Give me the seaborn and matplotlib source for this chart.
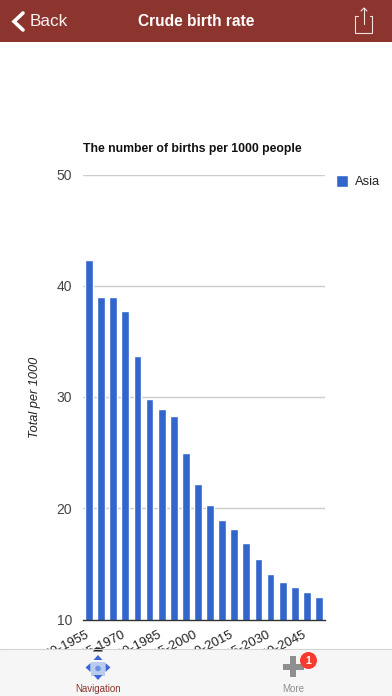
import matplotlib
matplotlib.use("Agg")
import matplotlib.pyplot as plt
import seaborn as sns
from matplotlib.patches import Rectangle, Circle, Polygon
from matplotlib.transforms import ScaledTranslation

periods = ["1950-1955", "1955-1960", "1960-1965", "1965-1970", "1970-1975",
           "1975-1980", "1980-1985", "1985-1990", "1990-1995", "1995-2000",
           "2000-2005", "2005-2010", "2010-2015", "2015-2020", "2020-2025",
           "2025-2030", "2030-2035", "2035-2040", "2040-2045", "2045-2050"]
births = [42.3, 39.0, 39.0, 37.7, 33.7, 29.8, 28.9, 28.3, 25.0, 22.2,
          20.3, 18.95, 18.1, 16.85, 15.4, 14.1, 13.35, 12.9, 12.5, 12.0]
y_ticks = [10, 20, 30, 40, 50]
shown_periods = periods[::3]

W, H = 392, 696
sns.set_theme(style="white")
plt.rcParams["font.family"] = ["Liberation Sans", "DejaVu Sans"]

fig = plt.figure(figsize=(W / 100, H / 100), dpi=100)
ax = fig.add_axes([83 / W, 1 - 619.5 / H, 242 / W, 445 / H])

sns.barplot(x=periods, y=births, color="#3366cc", saturation=1, width=0.64,
            label="Asia", ax=ax)
ax.set_xlim(-0.5, 19.5)
ax.set_ylim(10, 50)
ax.set_yticks(y_ticks)
ax.set_xticks(range(0, 20, 3))
ax.set_xticklabels(shown_periods, rotation=27, ha="right", rotation_mode="anchor",
                   fontsize=9.4, color="#222222")
ax.tick_params(axis="y", length=0, pad=8, labelsize=10, labelcolor="#444444")
ax.tick_params(axis="x", length=0, pad=6)
# nudge the slanted labels so they end under their bars (after tick_params, which resets it)
for lab in ax.get_xticklabels():
    lab.set_transform(lab.get_transform() + ScaledTranslation(-3 / 72, -0.5 / 72, fig.dpi_scale_trans))
ax.grid(axis="y", color="#cccccc", linewidth=1)
ax.set_axisbelow(True)
sns.despine(ax=ax, left=True, top=True, right=True)
ax.spines["bottom"].set_color("#333333")
ax.spines["bottom"].set_linewidth(1)
ax.set_ylabel("Total per 1000", fontsize=9.2, style="italic", color="#222222", labelpad=11)
ax.set_title("The number of births per 1000 people", fontsize=8.85, fontweight="bold",
             loc="left", color="#111111", pad=16.5)
ax.legend(loc="upper left", bbox_to_anchor=(1.045, 1.0), frameon=False, fontsize=9.3,
          handlelength=0.93, handleheight=1.15, handletextpad=0.55, borderaxespad=0, borderpad=0,
          labelcolor="#222222")

# app chrome on top, in pixel coordinates
ui = fig.add_axes([0, 0, 1, 1], zorder=5)
ui.set_xlim(0, W)
ui.set_ylim(H, 0)
ui.axis("off")
ui.patch.set_alpha(0)

red = "#8c352e"
ui.add_patch(Rectangle((0, 0), W, 41.5, color=red, lw=0))
ui.plot([23, 14, 23], [13, 21.5, 30], color="white", lw=2.6, solid_joinstyle="miter")
ui.text(30, 21.5, "Back", color="white", fontsize=12.4, va="center", alpha=0.93)
ui.text(196, 21.5, "Crude birth rate", color="white", fontsize=11.2, fontweight="bold",
        va="center", ha="center")
ui.plot([358, 355.5, 355.5, 372.5, 372.5, 370], [16, 16, 32.5, 32.5, 16, 16],
        color="white", lw=0.8, alpha=0.85)
ui.plot([364, 364], [8, 24], color="white", lw=0.8, alpha=0.85)
ui.plot([361, 364, 367], [11, 8, 11], color="white", lw=0.8, alpha=0.85)

ui.add_patch(Rectangle((0, 649), W, 47, color="#f6f6f7", lw=0))
ui.plot([0, W], [649, 649], color="#d4d4d4", lw=0.8)

blue = "#3b68d8"
ui.add_patch(Rectangle((91, 661.5), 14, 14, color="#b9cbef", lw=0))
ui.add_patch(Circle((98, 668.5), 2.8, color="#6f92e0", lw=0))
ui.add_patch(Polygon([[98, 655], [93.5, 660], [102.5, 660]], color=blue, lw=0))
ui.add_patch(Polygon([[98, 680], [93.5, 675], [102.5, 675]], color=blue, lw=0))
ui.add_patch(Polygon([[85.5, 667.5], [90.5, 663], [90.5, 672]], color=blue, lw=0))
ui.add_patch(Polygon([[110.5, 667.5], [105.5, 663], [105.5, 672]], color=blue, lw=0))
ui.add_patch(Polygon([[93, 651.5], [96, 647.5], [100, 647.5], [103, 651.5]], color="#222222", lw=0))
ui.text(98, 689, "Navigation", color=red, fontsize=7, ha="center", va="center")

ui.add_patch(Rectangle((283, 663.5), 21, 6.5, color="#8f8f8f", lw=0))
ui.add_patch(Rectangle((290, 656), 6.5, 21, color="#8f8f8f", lw=0))
ui.add_patch(Circle((308.5, 660.5), 8.5, color="#f63a30", lw=0))
ui.text(308.5, 660.5, "1", color="white", fontsize=7.5, fontweight="bold", ha="center", va="center")
ui.text(293, 689, "More", color="#8f8f8f", fontsize=7, ha="center", va="center")

fig.savefig("out.png", dpi=100)
